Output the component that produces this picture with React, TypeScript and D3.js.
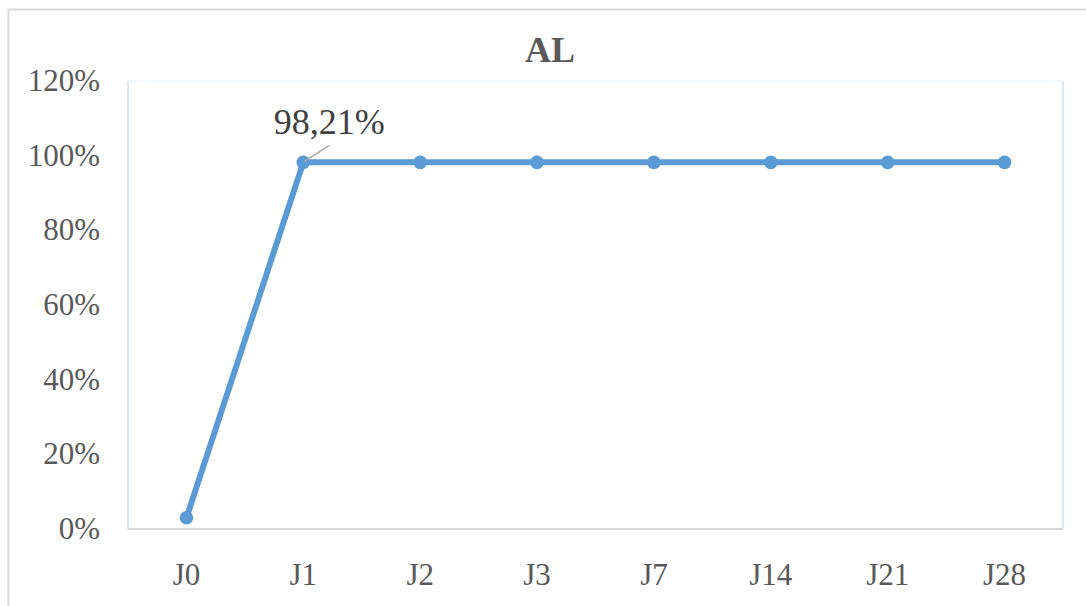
import React, { useEffect, useRef } from "react";
import * as d3 from "d3";

const categories = ["J0", "J1", "J2", "J3", "J7", "J14", "J21", "J28"];
const values = [0.03, 0.9821, 0.9821, 0.9821, 0.9821, 0.9821, 0.9821, 0.9821];
const yTicks = [0, 0.2, 0.4, 0.6, 0.8, 1.0, 1.2];
const title = "AL";
const labelIndex = 1;

const App = () => {
  const ref = useRef<SVGSVGElement>(null);

  useEffect(() => {
    const svg = d3.select(ref.current);
    svg.selectAll("*").remove();

    const W = 1086;
    const H = 606;
    const plot = { left: 128, top: 81, right: 1063, bottom: 529 };
    const font = "Liberation Serif, Times New Roman, serif";

    svg.append("rect").attr("width", W).attr("height", H).attr("fill", "#fff");

    // outer chart frame (runs past the picture on the right and bottom)
    svg
      .append("rect")
      .attr("x", 8.5)
      .attr("y", 9.5)
      .attr("width", 1090)
      .attr("height", 700)
      .attr("fill", "none")
      .attr("stroke", "#d9d9d9")
      .attr("stroke-width", 2);

    const x = d3
      .scaleBand()
      .domain(categories)
      .range([plot.left, plot.right]);

    const y = d3
      .scaleLinear()
      .domain([0, 1.2])
      .range([plot.bottom, plot.top]);

    // plot area border
    svg
      .append("line")
      .attr("x1", plot.left)
      .attr("x2", plot.right)
      .attr("y1", plot.top)
      .attr("y2", plot.top)
      .attr("stroke", "#eef4fb")
      .attr("stroke-width", 1.5);
    svg
      .selectAll(".side")
      .data([plot.left, plot.right])
      .enter()
      .append("line")
      .attr("x1", (d) => d)
      .attr("x2", (d) => d)
      .attr("y1", plot.top)
      .attr("y2", plot.bottom)
      .attr("stroke", "#cfe0f1")
      .attr("stroke-width", 1.5);
    svg
      .append("line")
      .attr("x1", plot.left)
      .attr("x2", plot.right)
      .attr("y1", plot.bottom)
      .attr("y2", plot.bottom)
      .attr("stroke", "#d9d9d9")
      .attr("stroke-width", 2);

    // title
    svg
      .append("text")
      .attr("x", 550)
      .attr("y", 62)
      .attr("text-anchor", "middle")
      .attr("font-family", font)
      .attr("font-size", 36)
      .attr("font-weight", "bold")
      .attr("fill", "#595959")
      .text(title);

    // y tick labels
    svg
      .selectAll(".ytick")
      .data(yTicks)
      .enter()
      .append("text")
      .attr("x", 100)
      .attr("y", (d) => y(d) + 10)
      .attr("text-anchor", "end")
      .attr("font-family", font)
      .attr("font-size", 31)
      .attr("fill", "#595959")
      .text((d) => `${Math.round(d * 100)}%`);

    // x tick labels
    svg
      .selectAll(".xtick")
      .data(categories)
      .enter()
      .append("text")
      .attr("x", (d) => (x(d) as number) + x.bandwidth() / 2)
      .attr("y", 585)
      .attr("text-anchor", "middle")
      .attr("font-family", font)
      .attr("font-size", 31)
      .attr("fill", "#595959")
      .text((d) => d);

    const cx = (i: number) => (x(categories[i]) as number) + x.bandwidth() / 2;

    // line
    const line = d3
      .line<number>()
      .x((_, i) => cx(i))
      .y((d) => y(d));

    svg
      .append("path")
      .datum(values)
      .attr("d", line)
      .attr("fill", "none")
      .attr("stroke", "#5b9bd5")
      .attr("stroke-width", 6)
      .attr("stroke-linejoin", "round");

    svg
      .selectAll(".pt")
      .data(values)
      .enter()
      .append("circle")
      .attr("cx", (_, i) => cx(i))
      .attr("cy", (d) => y(d))
      .attr("r", 6.8)
      .attr("fill", "#5b9bd5");

    // data label with leader line
    const lx = cx(labelIndex);
    const ly = y(values[labelIndex]);
    svg
      .append("line")
      .attr("x1", lx + 1)
      .attr("y1", ly - 1)
      .attr("x2", lx + 26)
      .attr("y2", ly - 17)
      .attr("stroke", "#a6a6a6")
      .attr("stroke-width", 1.5);
    svg
      .append("text")
      .attr("x", lx + 26)
      .attr("y", ly - 28)
      .attr("text-anchor", "middle")
      .attr("font-family", font)
      .attr("font-size", 36)
      .attr("fill", "#404040")
      .text(`${(values[labelIndex] * 100).toFixed(2).replace(".", ",")}%`);
  }, []);

  return (
    <svg
      ref={ref}
      width={1086}
      height={606}
      style={{ position: "fixed", left: 0, top: 0, display: "block" }}
    />
  );
};

export default App;
